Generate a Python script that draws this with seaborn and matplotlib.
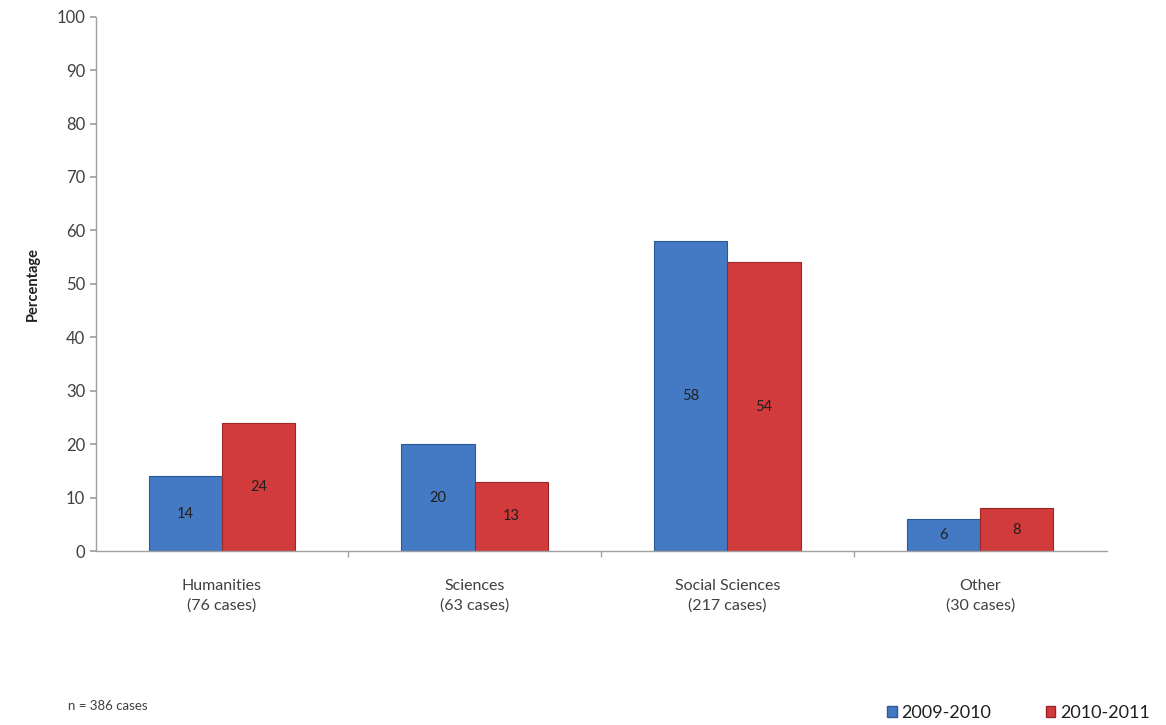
import matplotlib
matplotlib.use("Agg")
import matplotlib.pyplot as plt
import seaborn as sns
import pandas as pd

categories = ["Humanities\n(76 cases)", "Sciences\n(63 cases)", "Social Sciences\n(217 cases)", "Other\n(30 cases)"]
series_names = ["2009-2010", "2010-2011"]
values_2009 = [14, 20, 58, 6]
values_2010 = [24, 13, 54, 8]
y_ticks = [0, 10, 20, 30, 40, 50, 60, 70, 80, 90, 100]

df = pd.DataFrame({
    "category": categories * 2,
    "series": [series_names[0]] * 4 + [series_names[1]] * 4,
    "value": values_2009 + values_2010,
})

sns.set_theme(style="white")
plt.rcParams['font.family'] = ['Lato', 'DejaVu Sans']

fig = plt.figure(figsize=(11.66, 7.25), dpi=100)
ax = fig.add_axes([0.082, 0.24, 0.867, 0.737])

colors = ["#4479c4", "#d23b3b"]
sns.barplot(data=df, x="category", y="value", hue="series", palette=colors,
            width=0.58, ax=ax, legend=False, saturation=1,
            edgecolor="#2f5b96", linewidth=0.8)
for i, cont in enumerate(ax.containers):
    for p in cont.patches:
        p.set_edgecolor(["#2b5896", "#9a2626"][i])
    ax.bar_label(cont, label_type="center", fontsize=10.5, color="#202020")

ax.set_ylim(0, 100)
ax.set_xlim(-0.5, 3.5)
ax.set_yticks(y_ticks)
ax.tick_params(axis="y", labelsize=12, colors="#404040", length=4, direction="out", left=True, color="#a0a0a0")
ax.tick_params(axis="x", labelsize=11.5, colors="#404040", bottom=False, pad=14)
for lbl in ax.get_xticklabels():
    lbl.set_linespacing(1.5)
ax.set_xlabel("")
ax.set_ylabel("Percentage", fontsize=10.5, fontweight="bold", color="#202020", labelpad=12)
for s in ["top", "right"]:
    ax.spines[s].set_visible(False)
for s in ["left", "bottom"]:
    ax.spines[s].set_color("#a0a0a0")
    ax.spines[s].set_linewidth(1)
ax.set_xticks([0.5, 1.5, 2.5], minor=True)
ax.tick_params(axis="x", which="minor", length=4, bottom=True, color="#a0a0a0", direction="out")

fig.text(0.058, 0.026, "n = 386 cases", fontsize=9.5, color="#404040", ha="left", va="center")
from matplotlib.patches import Patch
handles = [Patch(facecolor=colors[0], edgecolor="#2b5896"), Patch(facecolor=colors[1], edgecolor="#9a2626")]
fig.legend(handles, series_names, loc="center right", bbox_to_anchor=(1.0, 0.017), ncol=2,
           frameon=False, fontsize=13, handlelength=0.55, handleheight=0.55, handletextpad=0.25,
           columnspacing=3.0, labelcolor="#202020")

fig.savefig("out.png", dpi=100)
